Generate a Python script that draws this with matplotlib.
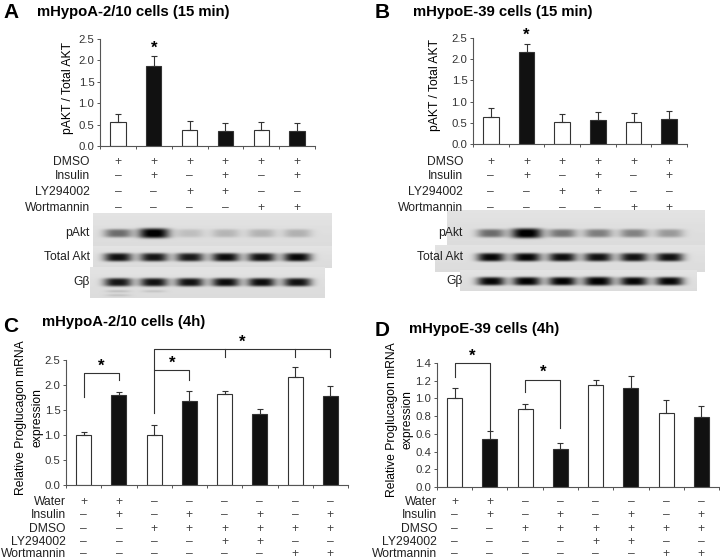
import matplotlib
import numpy as np

matplotlib.use("Agg")
import matplotlib.pyplot as plt  # noqa: E402

plt.rcParams["font.family"] = ["Liberation Sans", "DejaVu Sans"]

W, H = 720, 559
P, M = "+", "\u2013"
FS_TXT, FS_TICK, FS_TITLE, FS_LET = 8.7, 8.2, 10.7, 15

# --- data ---------------------------------------------------------------
A_vals = [0.55, 1.88, 0.38, 0.35, 0.37, 0.35]
A_err = [0.20, 0.22, 0.20, 0.19, 0.19, 0.19]
B_vals = [0.64, 2.16, 0.52, 0.57, 0.53, 0.59]
B_err = [0.20, 0.21, 0.19, 0.19, 0.20, 0.19]
C_vals = [1.00, 1.81, 1.00, 1.69, 1.82, 1.43, 2.16, 1.79]
C_err = [0.07, 0.05, 0.20, 0.19, 0.07, 0.09, 0.21, 0.19]
D_vals = [1.00, 0.54, 0.88, 0.43, 1.15, 1.12, 0.84, 0.79]
D_err = [0.12, 0.09, 0.06, 0.07, 0.06, 0.13, 0.14, 0.12]

top_rows = ["DMSO", "Insulin", "LY294002", "Wortmannin"]
top_signs = [[P, P, P, P, P, P],
             [M, P, M, P, M, P],
             [M, M, P, P, M, M],
             [M, M, M, M, P, P]]
bot_rows = ["Water", "Insulin", "DMSO", "LY294002", "Wortmannin"]
bot_signs = [[P, P, M, M, M, M, M, M],
             [M, P, M, P, M, P, M, P],
             [M, M, P, P, P, P, P, P],
             [M, M, M, M, P, P, M, M],
             [M, M, M, M, M, M, P, P]]

# band darkness per lane (0..1)
A_pakt = [0.50, 1.0, 0.14, 0.18, 0.19, 0.20]
A_total = [0.90, 0.88, 0.86, 0.92, 0.90, 0.94]
A_gb = [0.88, 0.90, 0.90, 0.92, 0.92, 0.90]
B_pakt = [0.50, 1.0, 0.46, 0.42, 0.40, 0.30]
B_total = [0.95, 0.95, 0.92, 0.90, 0.90, 0.90]
B_gb = [0.95, 0.97, 0.97, 0.98, 0.95, 0.95]

fig = plt.figure(figsize=(W / 100, H / 100), dpi=100)
ov = fig.add_axes([0, 0, 1, 1], zorder=0)
ov.set_axis_off()


def chart(x0, y0, x1, y1, vals, err, ymax, yticks, fmt):
    ax = fig.add_axes([x0 / W, 1 - y1 / H, (x1 - x0) / W, (y1 - y0) / H], zorder=2)
    ax.patch.set_visible(False)
    n = len(vals)
    xs = np.arange(n) + 0.5
    colors = ["white" if i % 2 == 0 else "#111111" for i in range(n)]
    ax.bar(xs, vals, width=0.43, color=colors, edgecolor="#333333", linewidth=0.8)
    ax.errorbar(xs, vals, yerr=[np.zeros(n), err], fmt="none", ecolor="#333333",
                elinewidth=0.8, capsize=2.5, capthick=0.8)
    ax.set_xlim(0, n)
    ax.set_ylim(0, ymax)
    ax.set_yticks(yticks)
    ax.set_yticklabels([fmt.format(t) for t in yticks], fontsize=FS_TICK, color="#333333")
    ax.set_xticks(np.arange(n + 1))
    ax.set_xticklabels([])
    ax.tick_params(axis="both", length=2.5, width=0.7, color="#555555", pad=1.5)
    for s in ("top", "right"):
        ax.spines[s].set_visible(False)
    for s in ("left", "bottom"):
        ax.spines[s].set_linewidth(0.8)
        ax.spines[s].set_color("#555555")
    return ax, x0 + xs * (x1 - x0) / n


def table(xlab, cols, ys, rows, signs):
    for r, y in enumerate(ys):
        ov.text(xlab, y, rows[r], ha="right", va="center", fontsize=FS_TXT, color="#222222")
        for c, x in enumerate(cols):
            ov.text(x, y, signs[r][c], ha="center", va="center", fontsize=FS_TXT,
                    color="#444444")


def blot(x0, x1, y0, y1, cols, yc, amp, wid=14, ht=4.2, extra=None):
    xx, yy = np.meshgrid(np.arange(x0, x1, 0.5), np.arange(y0, y1, 0.5))
    img = np.full(xx.shape, 0.89) - 0.03 * (yy - y0) / (y1 - y0)
    for cx, a in zip(cols, amp, strict=True):
        w = wid * (1.0 + 0.25 * max(a - 0.97, 0) * 12)
        h = ht * (1.0 + 0.5 * max(a - 0.97, 0) * 12)
        img -= 0.9 * a * np.exp(-(np.abs(xx - cx) / w) ** 3) * np.exp(-((yy - yc) / h) ** 4)
    if extra:
        for cx, ye, a in extra:
            img -= a * np.exp(-(np.abs(xx - cx) / 12) ** 3) * np.exp(-((yy - ye) / 1.2) ** 2)
    ov.imshow(np.clip(img, 0, 1), cmap="gray", vmin=0, vmax=1, aspect="auto",
              extent=(x0, x1, y1, y0), interpolation="bilinear")


def bracket(ax, xa, xb, top, la, lb, star_y):
    ax.plot([xa, xa, xb, xb], [la, top, top, lb], color="#333333", lw=0.8, clip_on=False)
    ax.text((xa + xb) / 2, star_y, "*", ha="center", va="center", fontsize=12,
            fontweight="bold", clip_on=False)


def mrna_label(x1, x2, y):
    ov.text(x1, y, "Relative Proglucagon mRNA", rotation=90, ha="center", va="center",
            fontsize=FS_TXT)
    ov.text(x2, y, "expression", rotation=90, ha="center", va="center", fontsize=FS_TXT)


# --- panel A --------------------------------------------------------------
axA, colA = chart(100, 39, 315, 146, A_vals, A_err, 2.5,
                  [0, 0.5, 1.0, 1.5, 2.0, 2.5], "{:.1f}")
axA.text(1.5, 2.28, "*", ha="center", va="center", fontsize=12, fontweight="bold")
ov.text(3, 12, "A", fontsize=FS_LET, fontweight="bold", va="center")
ov.text(37, 12, "mHypoA-2/10 cells (15 min)", fontsize=FS_TITLE, fontweight="bold",
        va="center")
ov.text(68, 88, "pAKT / Total AKT", rotation=90, ha="center", va="center", fontsize=FS_TXT)
table(90, colA, [162, 176, 192, 208], top_rows, top_signs)
blot(93, 332, 213, 246, colA, 233, A_pakt)
blot(93, 332, 246, 268, colA, 257, A_total)
blot(90, 325, 267, 298, colA, 282, A_gb,
     extra=[(colA[0], 291, 0.12), (colA[0], 295, 0.1), (colA[1], 291, 0.1)])
for y, lab in [(233, "pAkt"), (257, "Total Akt"), (282, "G\u03b2")]:
    ov.text(90, y, lab, ha="right", va="center", fontsize=FS_TXT, color="#222222")

# --- panel B --------------------------------------------------------------
axB, colB = chart(473, 38, 687, 144, B_vals, B_err, 2.5,
                  [0, 0.5, 1.0, 1.5, 2.0, 2.5], "{:.1f}")
axB.text(1.5, 2.56, "*", ha="center", va="center", fontsize=12, fontweight="bold",
         clip_on=False)
ov.text(375, 12, "B", fontsize=FS_LET, fontweight="bold", va="center")
ov.text(413, 12, "mHypoE-39 cells (15 min)", fontsize=FS_TITLE, fontweight="bold",
        va="center")
ov.text(435, 85, "pAKT / Total AKT", rotation=90, ha="center", va="center", fontsize=FS_TXT)
table(463, colB, [162, 176, 192, 208], top_rows, top_signs)
blot(447, 705, 210, 245, colB, 233, B_pakt)
blot(435, 705, 245, 272, colB, 257, B_total)
blot(460, 697, 270, 291, colB, 281, B_gb)
for y, lab in [(233, "pAkt"), (257, "Total Akt"), (281, "G\u03b2")]:
    ov.text(463, y, lab, ha="right", va="center", fontsize=FS_TXT, color="#222222")

# --- panel C --------------------------------------------------------------
axC, colC = chart(66, 360, 348, 485, C_vals, C_err, 2.5,
                  [0, 0.5, 1.0, 1.5, 2.0, 2.5], "{:.1f}")
bracket(axC, 0.5, 1.5, 2.24, 1.76, 2.1, 2.38)
bracket(axC, 2.5, 3.5, 2.3, 1.44, 2.1, 2.44)
axC.plot([2.5, 2.5, 7.5, 7.5], [2.3, 2.72, 2.72, 2.56], color="#333333", lw=0.8,
         clip_on=False)
for xt in (4.5, 6.5):
    axC.plot([xt, xt], [2.72, 2.56], color="#333333", lw=0.8, clip_on=False)
axC.text(5.0, 2.86, "*", ha="center", va="center", fontsize=12, fontweight="bold",
         clip_on=False)
ov.text(3, 326, "C", fontsize=FS_LET, fontweight="bold", va="center")
ov.text(42, 322, "mHypoA-2/10 cells (4h)", fontsize=FS_TITLE, fontweight="bold",
        va="center")
mrna_label(21, 38, 418)
table(66, colC, [502, 515, 529, 542, 554], bot_rows, bot_signs)

# --- panel D --------------------------------------------------------------
axD, colD = chart(437, 363, 719, 487, D_vals, D_err, 1.4,
                  [0, 0.2, 0.4, 0.6, 0.8, 1.0, 1.2, 1.4], "{:.1f}")
bracket(axD, 0.5, 1.5, 1.40, 1.24, 0.64, 1.48)
bracket(axD, 2.5, 3.5, 1.21, 1.07, 0.67, 1.30)
ov.text(375, 330, "D", fontsize=FS_LET, fontweight="bold", va="center")
ov.text(409, 329, "mHypoE-39 cells (4h)", fontsize=FS_TITLE, fontweight="bold",
        va="center")
mrna_label(392, 408, 420)
table(437, colD, [502, 515, 529, 542, 554], bot_rows, bot_signs)

ov.set_xlim(0, W)
ov.set_ylim(H, 0)
fig.savefig("out.png", dpi=100)
